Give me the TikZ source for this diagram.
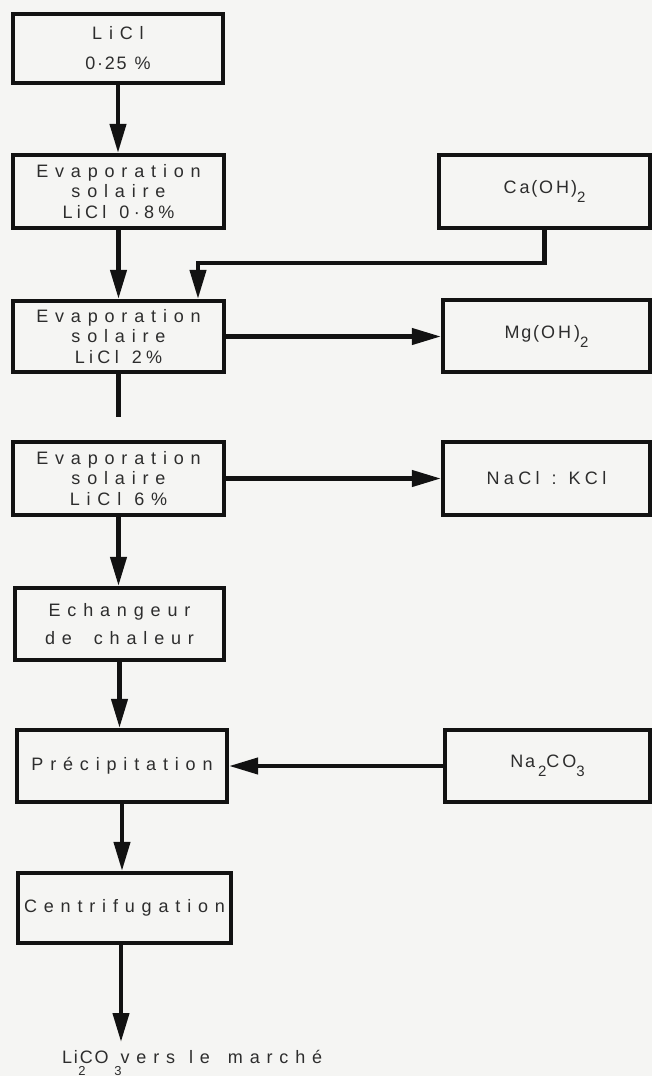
\documentclass[tikz,border=0pt]{standalone}
\usepackage{fontspec}
\setmainfont{Liberation Sans}
\newfontfamily\wideface[LetterSpace=38]{Liberation Sans}
\newfontfamily\midface[LetterSpace=24]{Liberation Sans}
\newfontfamily\tightface[LetterSpace=10]{Liberation Sans}
\usetikzlibrary{arrows.meta}
\definecolor{paper}{RGB}{245,245,243}
\definecolor{ink}{RGB}{18,18,18}
\definecolor{letter}{RGB}{45,45,45}
% lowered subscript digit used in the formulas
\newcommand{\lowsub}[1]{\raisebox{-9pt}{\fontsize{15}{15}\selectfont #1}}
% wide word space for the spaced-out lettering
\newcommand{\wsp}[1][13pt]{\hspace*{#1}}

\begin{document}
\begin{tikzpicture}[x=1pt,y=-1pt,
  box/.style={draw=ink, line width=4.2pt, inner sep=0pt, text=letter,
              align=center, fill=paper},
  leftbox/.style={box, minimum width=211pt, minimum height=72pt},
  flow/.style={draw=ink, line width=4.2pt, -{Triangle[length=29pt,width=16pt]}},
  plain/.style={draw=ink, line width=4.2pt},
  threeline/.style={font=\wideface\fontsize{18}{20.5}\selectfont},
  oneline/.style={font=\wideface\fontsize{18}{20}\selectfont},
  formula/.style={font=\tightface\fontsize{18}{20}\selectfont},
  subdigit/.style={font=\fontsize{13}{13}\selectfont, text=letter, inner sep=0pt,
                   anchor=base}]

\fill[paper] (0,0) rectangle (652,1076);
\useasboundingbox (0,0) rectangle (652,1076);

% main process column
\node[leftbox, minimum width=210pt, minimum height=69pt,
      font=\wideface\fontsize{18}{30}\selectfont] (b1) at (118,48.5)
      {LiCl\\{\tightface 0·25\wsp[8pt]\%}};
\node[leftbox, minimum height=73pt, threeline] (b2) at (118.5,191.5)
      {Evaporation\\solaire\\{\midface LiCl\wsp 0·8\%}};
\node[leftbox, minimum height=71pt, threeline] (b3) at (118.5,336.5)
      {Evaporation\\solaire\\{\midface LiCl\wsp 2\%}};
\node[leftbox, minimum height=73pt, threeline] (b4) at (118.5,478.5)
      {Evaporation\\solaire\\LiCl\wsp 6\%};
\node[leftbox, minimum width=209pt, font=\wideface\fontsize{18}{28}\selectfont]
      (b5) at (119.5,624) {Echangeur\\de\wsp[22pt]chaleur};
\node[leftbox, minimum width=210pt, oneline] (b6) at (122,766) {Précipitation};
\node[leftbox, minimum width=213pt, minimum height=70pt, oneline] (b7) at (124.5,908)
      {Centrifugation};

% reagents and by-products
\node[box, minimum width=211pt, minimum height=73pt, formula] (ca) at (544.5,191.5)
      {C\,a(O\,H)\lowsub{2}};
\node[box, minimum width=207pt, minimum height=72pt, formula] (mg) at (546.5,336)
      {Mg(O\,H\,)\lowsub{2}};
\node[box, minimum width=207pt, minimum height=73pt,
      font=\midface\fontsize{18}{20}\selectfont] (nacl) at (546.5,478.5)
      {NaCl\wsp[12pt]:\wsp[12pt]KCl};
\node[box, minimum width=205pt, minimum height=72pt, formula] (na) at (547.5,766)
      {Na\,\lowsub{2}C\,O\lowsub{3}};

% product
\node[font=\wideface\fontsize{18}{20}\selectfont, text=letter, inner sep=0pt,
      anchor=base west] (out) at (62,1063)
      {{\tightface LiCO}\wsp[12pt]vers\wsp[14pt]le\wsp[18pt]marché};
\node[subdigit] (s2) at (82,1075) {2};
\node[subdigit] (s3) at (118,1075) {3};

\coordinate (cajoint) at (198,263);
\coordinate (gapend) at (118.5,417);
\coordinate (outtop) at (121,1042);

% connectors
\draw[flow] (b1.south) -- (b1.south |- b2.north);
\draw[flow] (b2.south) -- (b2.south |- b3.north);
\draw[flow] (ca.south) |- (cajoint) -- (cajoint |- b3.north);
\draw[flow] (b3.east) -- (b3.east -| mg.west);
\draw[plain] (b3.south) -- (gapend);
\draw[flow] (b4.east) -- (b4.east -| nacl.west);
\draw[flow] (b4.south) -- (b4.south |- b5.north);
\draw[flow] (b5.south) -- (b5.south |- b6.north);
\draw[flow] (na.west) -- (na.west -| b6.east);
\draw[flow] (b6.south) -- (b6.south |- b7.north);
\draw[flow] (b7.south -| outtop) -- (outtop);
\end{tikzpicture}
\end{document}
